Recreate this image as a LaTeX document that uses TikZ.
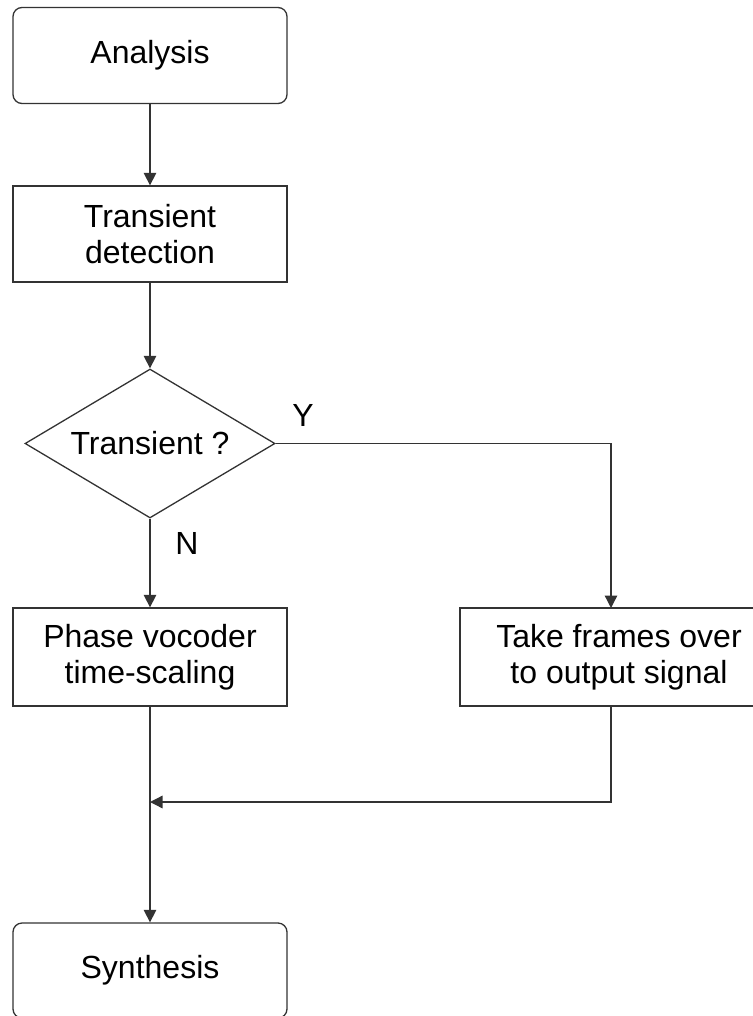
\documentclass[tikz,border=0pt]{standalone}
\usepackage{fontspec}
\setmainfont{Liberation Sans}
\usetikzlibrary{arrows.meta,shapes.geometric}
\definecolor{linec}{HTML}{333333}
\begin{document}
\begin{tikzpicture}[x=1pt,y=-1pt,
  box/.style={draw=linec, line width=1.3pt, minimum width=274pt, minimum height=96pt,
    inner sep=0pt, align=center, font=\fontsize{32}{36}\selectfont},
  term/.style={box, rounded corners=9pt},
  decision/.style={diamond, aspect=1.678, draw=linec, line width=1.3pt, minimum width=250pt,
    minimum height=149pt, inner sep=0pt, font=\fontsize{32}{36}\selectfont},
  lbl/.style={inner sep=0pt, font=\fontsize{32}{36}\selectfont},
  arr/.style={draw=linec, line width=1.3pt, -{Triangle[width=12.5pt,length=12.5pt]}},
  plain/.style={draw=linec, line width=1.3pt}]
\useasboundingbox (0,0) rectangle (752,1016);

% process steps
\node[term] (ana) at (150,55.5) {Analysis};
\node[box] (det) at (150,234) {Transient\\detection};
\node[decision] (dec) at (150,443.5) {Transient ?};
\node[box, minimum height=98pt] (pv) at (150,657) {Phase vocoder\\time-scaling};
\node[box, minimum width=318pt, minimum height=98pt] (tf) at (619,657) {Take frames over\\to output signal};
\node[term, minimum height=95pt] (syn) at (150,970.5) {Synthesis};

% branch labels
\node[lbl] (ylab) at (303,415) {Y};
\node[lbl] (nlab) at (187,543) {N};

% connector anchor points on the right branch
\coordinate (tin) at (611,608);
\coordinate (tout) at (611,706);
\coordinate (join) at (150,802);

% connectors
\draw[arr] (ana.south) -- (det.north);
\draw[arr] (det.south) -- (dec.north);
\draw[arr] (dec.south) -- (pv.north);
\draw[arr] (dec.east) -| (tin);
\draw[arr] (pv.south) -- (syn.north);
\draw[arr] (tout) |- (join);
\end{tikzpicture}
\end{document}
